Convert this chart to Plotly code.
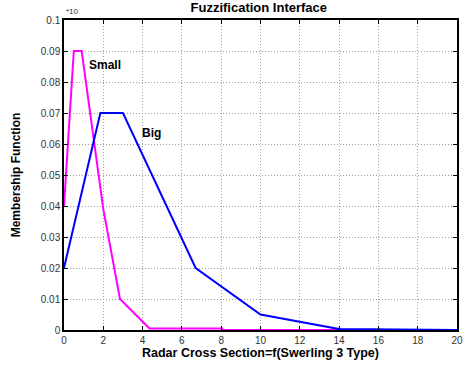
import plotly.graph_objects as go

# Membership functions for the radar cross section
small_x = [0, 0.5, 0.9, 2.0, 2.85, 4.35, 8.05, 8.05, 14, 20]
small_y = [0.04, 0.09, 0.09, 0.039, 0.01, 0.0005, 0.0005, 0, 0, 0]

big_x = [0, 1.85, 3.0, 6.7, 10.0, 14.0, 20.0]
big_y = [0.02, 0.07, 0.07, 0.02, 0.005, 0.0003, 0]

x_ticks = list(range(0, 21, 2))
y_ticks = [0, 0.01, 0.02, 0.03, 0.04, 0.05, 0.06, 0.07, 0.08, 0.09, 0.1]
y_tick_text = ["0", "0.01", "0.02", "0.03", "0.04", "0.05", "0.06", "0.07", "0.08", "0.09", "0.1"]

FONT = "Liberation Sans, Arial, Helvetica, sans-serif"

fig = go.Figure()
fig.add_trace(go.Scatter(x=small_x, y=small_y, mode="lines",
                         line=dict(color="#ff00ff", width=2), name="Small"))
fig.add_trace(go.Scatter(x=big_x, y=big_y, mode="lines",
                         line=dict(color="#0000ff", width=2), name="Big"))

axis_common = dict(
    showline=True, linecolor="black", linewidth=1.5, mirror="ticks",
    ticks="inside", ticklen=4, tickcolor="black", automargin=False,
    showgrid=True, gridcolor="#a0a0a0", griddash="1px,2px", gridwidth=1,
    zeroline=False, tickfont=dict(family=FONT, size=10, color="#333333"),
)

fig.update_xaxes(range=[0, 20], tickvals=x_ticks,
                 title=dict(text="<b>Radar Cross Section=f(Swerling 3 Type)</b>",
                            font=dict(family=FONT, size=12.5, color="black"), standoff=2),
                 **axis_common)
fig.update_yaxes(range=[0, 0.1], tickvals=y_ticks, ticktext=y_tick_text,
                 title=dict(text="<b>Membership Function</b>",
                            font=dict(family=FONT, size=12, color="black"), standoff=18),
                 **axis_common)

fig.add_annotation(x=1.15, y=0.0855, text="<b>Small</b>", showarrow=False,
                   xanchor="left", font=dict(family=FONT, size=12, color="black"))
fig.add_annotation(x=3.85, y=0.0635, text="<b>Big</b>", showarrow=False,
                   xanchor="left", font=dict(family=FONT, size=12, color="black"))
fig.add_annotation(x=0, y=1.0, xref="paper", yref="paper", text="*10",
                   showarrow=False, xanchor="left", yanchor="bottom", yshift=2,
                   font=dict(family=FONT, size=8, color="#333333"))

fig.update_layout(
    width=468, height=367,
    margin=dict(l=64, r=11, t=20, b=37),
    paper_bgcolor="white", plot_bgcolor="white",
    showlegend=False,
    title=dict(text="<b>Fuzzification Interface</b>", x=0.553, xanchor="center",
               y=0.992, yanchor="top",
               font=dict(family=FONT, size=13, color="black")),
)

fig.write_html("out.html")
